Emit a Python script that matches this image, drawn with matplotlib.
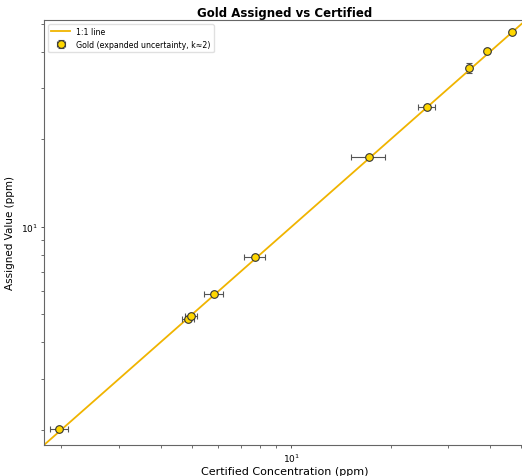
import numpy as np
import matplotlib
matplotlib.use("Agg")
from matplotlib import pyplot as plt

# certified vs assigned gold values (ppm)
certified = [1.97, 4.85, 4.95, 5.82, 7.76, 17.2, 25.8, 34.7, 39.4, 46.9]
assigned = [2.01, 4.82, 4.93, 5.87, 7.88, 17.4, 25.9, 35.3, 40.4, 47.0]
certified_err = [0.13, 0.20, 0.20, 0.38, 0.57, 2.0, 1.5, 0.5, 0.4, 0.5]
assigned_err = [0.03, 0.06, 0.06, 0.07, 0.09, 0.2, 0.3, 1.4, 0.4, 0.4]

axis_min = 1.77
axis_max = 51.6


def main():
    fig = plt.figure(figsize=(5.22, 4.77), dpi=100)
    # axes runs slightly past the right edge, like the reference crop
    ax = fig.add_axes([44 / 522, 31 / 477, 482 / 522, 425 / 477])

    ax.plot([axis_min, axis_max], [axis_min, axis_max], color='#f0b400',
            linewidth=1.3, label='1:1 line', zorder=1)

    ax.errorbar(certified, assigned, xerr=certified_err, yerr=assigned_err,
                fmt='o', color='#FFD700', markeredgecolor='#333333',
                markeredgewidth=0.8, markersize=5.5, ecolor='#555555',
                elinewidth=0.8, capsize=2.5, capthick=0.8, zorder=3,
                label='Gold (expanded uncertainty, k\u22482)')

    ax.set_xscale('log')
    ax.set_yscale('log')
    ax.set_xlim(axis_min, axis_max)
    ax.set_ylim(axis_min, axis_max)

    ax.set_xlabel('Certified Concentration (ppm)', fontsize=8, labelpad=2)
    ax.set_ylabel('Assigned Value (ppm)', fontsize=7.5, labelpad=4)
    ax.set_title('Gold Assigned vs Certified', fontsize=8.5, fontweight='bold', pad=3)
    ax.tick_params(which='both', length=2.5, pad=2, labelsize=6.5,
                   colors='#555555', labelcolor='black', width=0.7)
    ax.tick_params(which='minor', length=2, width=0.6)
    for side in ['left', 'bottom', 'top', 'right']:
        ax.spines[side].set_color('#666666')
        ax.spines[side].set_linewidth(0.8)

    ax.legend(loc='upper left', fontsize=5.7, framealpha=0.9, edgecolor='#dddddd',
              handlelength=2.4)

    fig.savefig('out.png', dpi=100)


if __name__ == '__main__':
    main()
